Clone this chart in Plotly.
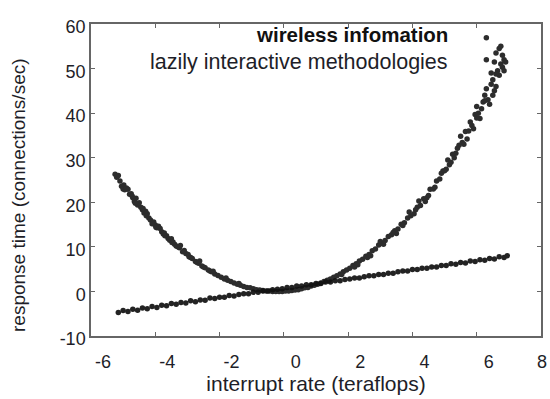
import plotly.graph_objects as go

# Series 1: parabola-shaped cloud ("wireless infomation")
para_x = [-5.25, -5.2, -5.15, -5.05, -4.98, -4.95, -4.85, -4.8, -4.75, -4.65, -4.6, -4.55, -4.45, -4.4,
          -4.35, -4.25, -4.2, -4.15, -4.05, -4.0, -3.95, -3.85, -3.8, -3.75, -3.65, -3.6, -3.55, -3.45,
          -3.4, -3.35, -3.25, -3.15, -3.05, -2.95, -2.85, -2.75, -2.65, -2.55, -2.45, -2.35, -2.25, -2.15,
          -2.05, -1.95, -1.85, -1.75, -1.65, -1.55, -1.45, -1.35, -1.25, -1.15, -1.05, -0.95, -0.85, -0.75,
          -0.65, -0.55, -0.45, -0.35, -0.25, -0.15, -0.05, 0.05, 0.15, 0.25, 0.35, 0.45, 0.55, 0.65, 0.75,
          0.85, 0.95, 1.05, 1.15, 1.25, 1.35, 1.45, 1.55, 1.65, 1.75, 1.85, 1.95, 2.05, 2.15, 2.25, 2.35,
          2.45, 2.55, 2.65, 2.75, 2.85, 2.95, 3.05, 3.15, 3.25, 3.35, 3.45, 3.55, 3.65, 3.75, 3.85, 3.95,
          4.05, 4.15, 4.25, 4.35, 4.45, 4.55, 4.65, 4.75, 4.85, 4.95, 5.05, 5.15, 5.25, 5.35, 5.45, 5.55,
          5.65, 5.75, 5.85, 5.95, 6.05, 6.15, 6.25, 6.35, 6.45, 6.55, 6.65, 6.75, 6.85,
          4.2, 4.5, 4.9, 5.1, 5.3, 5.5, 5.6, 5.8, 5.9, 6.0, 6.1, 6.2, 6.3, 6.4, 6.45, 6.5, 6.55, 6.6, 6.6,
          6.7, 6.7, 6.8, 6.85, 6.9, 6.3, 6.3, 6.5, 6.75, 3.9, 3.5, 3.0, 2.6, 2.2,
          -5.0, -4.9, -4.7, -4.5, -4.3, -4.1, -3.9, -3.7, -3.5, -3.3, -3.1, -2.9, -2.7, -2.5, -2.3,
          -5.1, -4.72, -4.62, -4.38, -4.28, -3.98, -3.72, -3.48, -3.22, -2.98, -2.62, -2.2, -1.8, -1.4,
          1.4, 1.8, 2.3, 2.7, 3.1, 3.4, 3.7, 4.1, 4.4, 4.7, 5.0, 5.2, 5.4, 5.7, 6.0, 6.25, 6.6, 6.8]
para_y = [26.3, 25.6, 26.0, 23.6, 23.9, 22.8, 22.9, 21.8, 21.9, 20.2, 20.9, 19.4, 18.9, 18.3,
          17.6, 17.4, 16.5, 16.0, 15.6, 14.9, 14.3, 14.1, 13.4, 12.9, 12.5, 11.9, 11.5, 11.1,
          10.6, 10.2, 9.8, 8.9, 8.5, 7.8, 7.4, 6.7, 6.3, 5.7, 5.3, 4.8, 4.4, 3.9,
          3.6, 3.2, 2.8, 2.5, 2.2, 1.9, 1.6, 1.4, 1.1, 0.9, 0.8, 0.6, 0.4, 0.3,
          0.2, 0.1, 0.1, 0.0, 0.0, 0.0, 0.0, 0.1, 0.1, 0.2, 0.3, 0.4, 0.6, 0.8, 0.9,
          1.2, 1.4, 1.6, 1.9, 2.2, 2.5, 2.8, 3.2, 3.5, 3.9, 4.4, 4.8, 5.2, 5.8, 6.2, 6.8,
          7.2, 7.9, 8.3, 9.1, 9.5, 10.4, 10.8, 11.4, 12.3, 12.7, 13.6, 14.0, 15.1, 15.4, 16.5, 17.0,
          17.4, 18.9, 19.3, 20.8, 21.0, 22.9, 23.0, 24.8, 25.2, 27.0, 27.4, 28.4, 30.8, 31.0, 32.8, 33.4,
          35.9, 36.0, 37.2, 39.7, 40.0, 41.0, 44.0, 43.0, 46.5, 45.0, 49.5, 51.0, 52.0,
          20.3, 21.5, 26.5, 29.5, 30.0, 34.8, 33.0, 38.0, 36.5, 41.5, 38.8, 42.5, 45.5, 42.0, 49.0, 47.5,
          51.5, 46.0, 53.5, 48.5, 54.5, 53.0, 49.5, 51.5, 56.9, 52.0, 44.0, 55.0, 17.8, 13.0, 11.2, 7.6, 5.5,
          23.0, 23.2, 21.0, 19.9, 18.0, 15.2, 14.6, 12.5, 11.8, 10.0, 9.2, 7.6, 6.5, 5.5, 4.6,
          24.8, 21.4, 19.8, 18.6, 17.0, 14.4, 13.1, 11.0, 10.3, 8.3, 6.8, 4.5, 3.0, 1.8,
          2.4, 3.8, 6.0, 8.0, 10.6, 13.2, 14.8, 18.3, 20.2, 23.4, 27.1, 29.0, 32.1, 34.2, 38.9, 42.8, 48.8, 50.3]

# Series 2: linear cloud ("lazily interactive methodologies")
line_x = [-5.15, -5.0, -4.85, -4.7, -4.55, -4.4, -4.25, -4.1, -3.95, -3.8, -3.65, -3.5, -3.35, -3.2,
          -3.05, -2.9, -2.75, -2.6, -2.45, -2.3, -2.15, -2.0, -1.85, -1.7, -1.55, -1.4, -1.25, -1.1,
          -0.95, -0.8, -0.65, -0.5, -0.35, -0.2, -0.05, 0.1, 0.25, 0.4, 0.55, 0.7, 0.85, 1.0, 1.15, 1.3,
          1.45, 1.6, 1.75, 1.9, 2.05, 2.2, 2.35, 2.5, 2.65, 2.8, 2.95, 3.1, 3.25, 3.4, 3.55, 3.7, 3.85,
          4.0, 4.15, 4.3, 4.45, 4.6, 4.75, 4.9, 5.05, 5.2, 5.35, 5.5, 5.65, 5.8, 5.95, 6.1, 6.25, 6.4,
          6.55, 6.7, 6.85, 6.95]
line_y = [-4.7, -4.3, -4.5, -4.0, -4.2, -3.7, -3.9, -3.4, -3.6, -3.1, -3.2, -2.7, -2.9, -2.5,
          -2.6, -2.1, -2.3, -1.9, -2.0, -1.5, -1.6, -1.3, -1.3, -0.9, -1.0, -0.7, -0.5, -0.5,
          -0.2, -0.2, 0.1, 0.1, 0.4, 0.5, 0.6, 0.9, 0.9, 1.2, 1.2, 1.5, 1.5, 1.8, 1.8, 2.1,
          2.1, 2.4, 2.4, 2.7, 2.8, 3.0, 3.0, 3.3, 3.5, 3.5, 3.8, 3.8, 4.1, 4.1, 4.4, 4.6, 4.6,
          4.9, 4.9, 5.2, 5.2, 5.5, 5.5, 5.8, 5.8, 6.2, 6.1, 6.5, 6.4, 6.8, 6.7, 7.1, 7.0, 7.4,
          7.3, 7.8, 7.6, 8.0]

series_names = ["wireless infomation", "lazily interactive methodologies"]
x_ticks = [-6, -4, -2, 0, 2, 4, 6, 8]
y_ticks = [-10, 0, 10, 20, 30, 40, 50, 60]
x_title = "interrupt rate (teraflops)"
y_title = "response time (connections/sec)"

FONT = "Liberation Sans, Arial, sans-serif"
TXT = "#1e1e28"

fig = go.Figure()
fig.add_trace(go.Scatter(x=para_x, y=para_y, mode="markers", name=series_names[0],
                         marker=dict(symbol="circle", size=5.5, color="#111111", line=dict(width=0)),
                         opacity=0.88, showlegend=False))
fig.add_trace(go.Scatter(x=line_x, y=line_y, mode="markers", name=series_names[1],
                         marker=dict(symbol="circle", size=5.5, color="#111111", line=dict(width=0)),
                         opacity=0.92, showlegend=False))

fig.add_annotation(x=0.798, y=0.965, xref="paper", yref="paper", xanchor="right", yanchor="middle",
                   text="<b>" + series_names[0] + "</b>", showarrow=False,
                   font=dict(family=FONT, size=20.5, color="#111"))
fig.add_annotation(x=0.797, y=0.878, xref="paper", yref="paper", xanchor="right", yanchor="middle",
                   text=series_names[1], showarrow=False,
                   font=dict(family=FONT, size=21.5, color=TXT))
# y-axis title (placed slightly below the plot-area centre, as in the reference)
fig.add_annotation(x=0, y=0.452, xref="paper", yref="paper", xanchor="center", yanchor="middle",
                   xshift=-72, textangle=-90, text=y_title, showarrow=False,
                   font=dict(family=FONT, size=19, color=TXT))
# last x tick label sits at the right page edge; kept fully inside the page
fig.add_annotation(x=1, y=-0.083, xref="paper", yref="paper", xanchor="right", yanchor="middle",
                   xshift=8, text=str(x_ticks[-1]), showarrow=False,
                   font=dict(family=FONT, size=18, color=TXT))

axis_common = dict(showline=True, linecolor="#666", linewidth=1.5, mirror="ticks",
                   ticks="inside", ticklen=4, tickcolor="#666", showgrid=False, zeroline=False,
                   automargin=False, tickfont=dict(family=FONT, size=18, color=TXT))

fig.update_xaxes(range=[-6, 8], tickvals=x_ticks,
                 ticktext=[str(v) for v in x_ticks[:-1]] + [""],
                 title=dict(text=x_title, font=dict(family=FONT, size=21, color=TXT), standoff=4),
                 ticklabelshift=12, ticklabelstandoff=9, ticklabeloverflow="allow", **axis_common)
fig.update_yaxes(range=[-10, 60], tickvals=y_ticks, ticktext=[str(v) for v in y_ticks],
                 ticklabelshift=3, ticklabelstandoff=0, ticklabeloverflow="allow", **axis_common)

fig.update_layout(width=550, height=399, margin=dict(l=91, r=9, t=24, b=63),
                  plot_bgcolor="white", paper_bgcolor="white", showlegend=False)

fig.write_html("out.html")
